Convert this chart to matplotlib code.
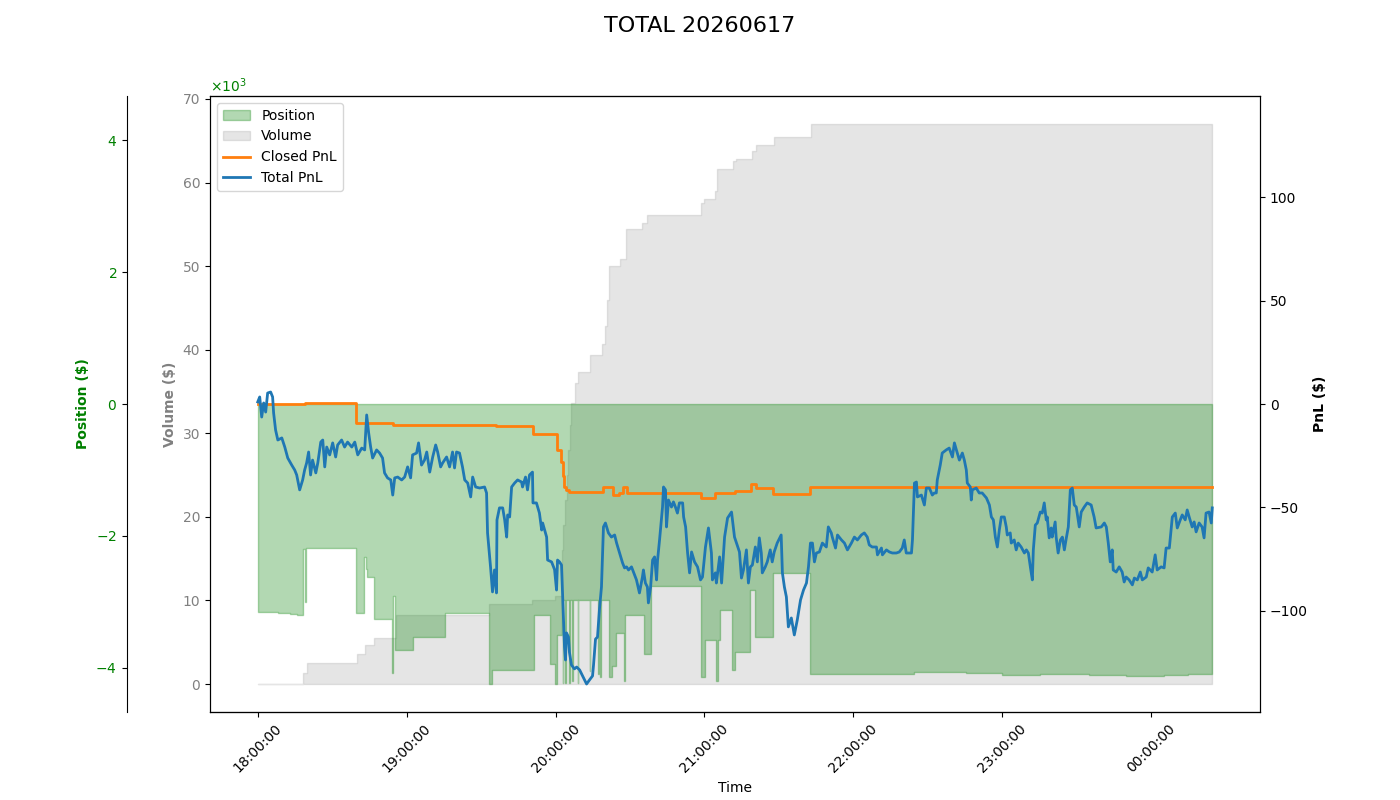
import matplotlib
matplotlib.use('Agg')
import matplotlib.pyplot as plt
import matplotlib.dates as mdates
import numpy as np
import pandas as pd


start = pd.Timestamp('2026-06-17 18:00:00')

# Volume ($, thousands), cumulative, (minutes after 18:00, value)
volume_pts = [(0, 0), (18.1, 1.3), (19.7, 2.5), (39.9, 3.6), (43.1, 4.7), (46.7, 5.5),
              (55.6, 8.3), (93.0, 9.6), (110.7, 10.0), (119.6, 10.5), (122.4, 16),
              (123.2, 19), (124.0, 22), (124.6, 25), (125.2, 28), (125.8, 31), (126.4, 33.6),
              (127.7, 36), (128.9, 37.3), (133.7, 39.4), (138.9, 40.7), (140.1, 42.8),
              (140.9, 46), (141.7, 50), (145.8, 50.9), (148.2, 54.4), (155.0, 55.1),
              (157.0, 56.1), (178.8, 57.5), (180.0, 58), (184.4, 59), (185.2, 61.6),
              (191.3, 62.6), (192.9, 62.8), (199.3, 63.8), (200.9, 64.5), (208.2, 65.5),
              (223.1, 67.0), (384.6, 67.0)]

# Position ($)
position_pts = [(0, -3150), (8, -3170), (13, -3190), (16, -3210), (18.1, -2200), (18.9, -3000),
                (19.5, -2180), (39.5, -3170), (43.0, -2320), (43.5, -2500), (44.0, -2620),
                (46.8, -3270), (54.0, -4080), (54.6, -2920), (55.4, -3730), (62.4, -3530),
                (75.3, -3170), (93.0, -4250), (94.3, -4030), (111.5, -3200), (117.6, -3950),
                (119.6, -4250), (120.4, -3500), (122.4, -2970), (122.8, -4230), (123.1, -2970),
                (124.0, -4230), (124.3, -2970), (125.6, -4230), (125.9, -2970), (126.8, -4200),
                (127.1, -2970), (128.9, -4230), (129.2, -2970), (133.7, -4050), (134.0, -2970),
                (136.9, -4100), (137.4, -2970), (137.9, -4150), (138.5, -2970), (141.7, -4150),
                (142.9, -3980), (144.2, -3470), (147.4, -4200), (147.8, -3200), (155.8, -3800),
                (158.3, -2770), (178.4, -4140), (180.4, -3580), (184.8, -4200), (185.4, -3580),
                (186.1, -3120), (190.9, -4030), (192.5, -3760), (198.5, -2830), (200.5, -3530),
                (207.8, -2560), (222.7, -4100), (264.6, -4070), (285.5, -4090), (300, -4120),
                (315, -4100), (335, -4110), (350, -4130), (365, -4120), (375, -4100),
                (384.6, -4100)]

# Closed PnL ($)
closed_pts = [(0, 0), (19.0, 0.5), (39.5, -9.2), (54.4, -10.1), (96.0, -10.8), (110.9, -14.5),
              (120.4, -22.2), (122.0, -28), (123.0, -35), (123.6, -40), (124.4, -41.5),
              (125.6, -42.5), (139.3, -40), (143.3, -44), (145.5, -43), (147.0, -40),
              (148.6, -43), (178.4, -45.4), (184.4, -43), (192.5, -42), (198.9, -38.6),
              (200.9, -40.6), (207.8, -43.5), (222.7, -40), (384.6, -40)]

# Total PnL ($)
total_pts = [(0, 1.0), (0.8, 3.4), (1.6, -6.3), (2.4, 0.5), (3.2, -3.9), (4.0, 5.3), (5.2, 5.8),
             (6.0, 3.4), (6.4, -4.3), (7.2, -12.6), (8.1, -17.4), (9.7, -16.4), (10.9, -20.8),
             (12.1, -26.1), (13.7, -29.5), (14.9, -31.9), (15.7, -34.3), (16.9, -41.5),
             (18.1, -36.7), (18.9, -31.9), (19.7, -28.5), (20.5, -23.2), (21.3, -34.3),
             (22.1, -27.1), (23.4, -33.3), (24.2, -28.5), (25.4, -18.4), (26.2, -17.4),
             (27.0, -30.4), (27.8, -20.8), (29.0, -24.6), (30.2, -18.8), (31.4, -25.6),
             (32.2, -19.8), (33.8, -17.4), (35.0, -20.8), (36.2, -18.4), (37.9, -20.8),
             (39.1, -18.4), (40.3, -24.6), (41.9, -21.3), (43.1, -22.2), (43.9, -5.3),
             (44.7, -14.0), (45.5, -20.8), (46.3, -26.1), (47.9, -22.2), (49.1, -23.7),
             (50.3, -26.1), (51.1, -33.3), (52.3, -35.7), (53.6, -36.7), (54.4, -44.0),
             (55.2, -35.7), (56.4, -35.3), (58.0, -36.7), (59.2, -35.3), (60.4, -30.4),
             (61.6, -35.7), (62.4, -24.6), (64.0, -23.7), (64.8, -18.8), (66.0, -29.5),
             (67.2, -27.1), (68.1, -23.2), (69.3, -32.9), (70.5, -25.6), (71.7, -19.8),
             (72.5, -23.2), (73.7, -30.4), (74.5, -28.5), (76.1, -25.6), (77.3, -30.4),
             (78.5, -23.2), (79.3, -30.9), (80.1, -23.2), (81.3, -23.7), (82.5, -30.4),
             (83.4, -36.7), (84.6, -38.2), (85.8, -44.9), (86.6, -35.3), (87.8, -40.1),
             (89.4, -40.6), (91.4, -40.1), (92.2, -43.0), (92.6, -62.3), (93.8, -78.7),
             (94.6, -90.8), (95.4, -80.2), (96.2, -91.3), (96.4, -56.0), (97.4, -50.2),
             (98.7, -50.2), (99.5, -56.0), (100.3, -64.3), (100.7, -53.6), (101.5, -54.6),
             (102.3, -40.1), (103.5, -38.2), (104.7, -36.7), (106.3, -37.7), (106.7, -40.1),
             (107.9, -35.3), (108.7, -41.5), (109.5, -34.3), (110.7, -32.9), (110.9, -47.8),
             (112.3, -47.8), (113.5, -52.7), (114.4, -60.9), (114.8, -57.5), (116.4, -64.3),
             (116.8, -75.4), (118.4, -76.3), (119.6, -80.0), (120.0, -85.0), (120.4, -89.9),
             (120.8, -75.4), (121.6, -76.3), (122.4, -77.8), (122.8, -91.3), (123.6, -117.4),
             (124.0, -123.7), (124.4, -110.6), (125.2, -112.6), (125.6, -120.0), (126.4, -126.1),
             (127.6, -128.0), (128.5, -127.1), (129.7, -128.5), (130.9, -131.4), (132.5, -135.3),
             (133.7, -133.3), (134.9, -131.4), (135.3, -126.1), (136.1, -113.6), (136.9, -112.6),
             (137.7, -99.0), (138.5, -88.4), (139.3, -59.4), (140.1, -57.5), (141.3, -62.3),
             (142.5, -64.3), (143.8, -63.3), (144.6, -67.2), (145.8, -72.0), (147.0, -76.8),
             (147.8, -79.2), (148.6, -78.7), (149.4, -80.2), (150.6, -78.7), (151.4, -81.2),
             (152.6, -85.0), (153.8, -91.3), (155.0, -83.6), (155.4, -80.2), (156.2, -86.5),
             (157.0, -88.4), (157.4, -96.1), (158.3, -88.4), (159.1, -75.4), (159.9, -73.9),
             (160.7, -85.0), (161.1, -75.4), (161.9, -65.7), (163.1, -49.8), (163.5, -40.1),
             (164.3, -41.5), (164.7, -59.4), (165.5, -46.4), (166.7, -49.8), (167.5, -47.3),
             (168.3, -49.8), (169.1, -52.7), (169.9, -47.8), (171.2, -47.8), (171.6, -54.6),
             (172.4, -59.4), (173.2, -72.0), (174.0, -81.6), (174.8, -71.5), (176.0, -76.3),
             (177.2, -78.7), (178.4, -85.0), (179.2, -83.6), (180.4, -69.1), (181.6, -59.9),
             (182.8, -72.0), (183.2, -85.0), (184.4, -81.6), (184.8, -86.5), (186.1, -73.9),
             (186.9, -86.5), (188.1, -64.3), (189.3, -55.1), (190.9, -52.2), (192.1, -64.3),
             (192.9, -67.2), (194.1, -71.5), (194.9, -84.1), (195.7, -80.2), (196.9, -70.5),
             (197.7, -86.5), (198.5, -78.7), (199.3, -77.8), (200.5, -69.1), (201.3, -76.3),
             (202.1, -64.7), (202.9, -72.0), (203.3, -81.6), (204.5, -78.7), (205.3, -76.3),
             (206.5, -70.5), (207.3, -76.3), (208.1, -71.5), (209.3, -67.2), (210.9, -63.3),
             (211.4, -81.6), (212.2, -88.4), (213.0, -93.2), (213.8, -107.7), (215.0, -103.4),
             (216.2, -111.6), (217.4, -104.3), (218.7, -94.7), (219.9, -89.9), (221.1, -86.5),
             (221.9, -78.7), (222.7, -67.2), (223.5, -67.2), (224.3, -76.3), (225.1, -72.0),
             (226.3, -71.5), (227.5, -67.2), (229.1, -69.1), (229.9, -59.4), (231.1, -62.3),
             (231.5, -64.3), (232.8, -69.6), (233.6, -63.3), (235.2, -65.7), (236.4, -67.2),
             (237.6, -70.5), (239.2, -67.2), (240.4, -64.3), (241.6, -65.7), (243.2, -63.3),
             (244.4, -62.3), (245.6, -64.3), (246.4, -68.1), (247.6, -69.1), (249.3, -69.1),
             (249.7, -72.9), (251.3, -69.6), (251.7, -72.9), (253.3, -70.5), (254.5, -71.5),
             (255.7, -72.0), (257.3, -72.0), (258.5, -71.5), (259.7, -69.6), (260.5, -65.7),
             (261.3, -72.0), (263.4, -72.0), (263.8, -65.7), (264.6, -38.2), (265.4, -37.7),
             (265.8, -44.9), (267.4, -44.0), (268.6, -48.8), (269.4, -40.6), (270.6, -40.6),
             (271.8, -44.0), (272.6, -43.0), (273.4, -43.0), (273.8, -36.7), (275.0, -29.5),
             (275.8, -23.7), (277.4, -22.2), (278.6, -21.3), (279.9, -25.6), (280.7, -18.8),
             (281.5, -22.2), (282.7, -27.1), (283.9, -23.7), (284.7, -27.1), (285.5, -31.9),
             (285.9, -38.2), (287.1, -40.1), (287.5, -46.4), (287.9, -41.5), (289.5, -40.6),
             (290.7, -43.0), (291.9, -43.0), (293.6, -45.4), (294.8, -48.8), (295.6, -54.6),
             (296.4, -56.0), (297.2, -64.3), (298.0, -69.1), (298.8, -60.9), (299.6, -54.6),
             (300.8, -54.6), (301.6, -59.4), (302.0, -63.3), (303.2, -62.3), (303.6, -67.2),
             (304.8, -65.7), (305.6, -70.5), (306.4, -67.2), (307.6, -69.1), (308.9, -72.0),
             (309.7, -70.5), (310.5, -72.0), (311.3, -78.7), (312.1, -85.0), (312.5, -70.5),
             (313.3, -58.5), (314.1, -57.5), (315.3, -52.2), (316.1, -52.7), (316.9, -47.8),
             (317.7, -56.0), (318.1, -54.6), (318.9, -64.7), (319.7, -59.9), (320.1, -64.3),
             (321.3, -57.0), (321.7, -64.3), (322.5, -72.0), (323.4, -65.7), (324.2, -64.3),
             (325.0, -70.5), (325.8, -64.7), (326.6, -59.4), (327.4, -41.5), (328.2, -40.6),
             (329.0, -48.8), (329.8, -49.8), (331.0, -59.4), (331.8, -52.2), (333.0, -49.8),
             (334.2, -47.8), (335.8, -48.8), (337.0, -54.6), (337.8, -59.9), (339.9, -59.4),
             (341.1, -57.5), (341.9, -59.4), (342.7, -67.2), (343.5, -76.3), (344.3, -70.5),
             (344.7, -80.2), (345.9, -81.2), (347.1, -78.7), (348.3, -81.2), (349.1, -86.0),
             (349.9, -83.6), (351.1, -85.0), (352.4, -87.4), (353.2, -84.1), (354.4, -85.0),
             (355.6, -81.2), (356.4, -85.0), (358.0, -83.6), (358.8, -79.2), (360.4, -81.2),
             (361.6, -72.9), (362.4, -80.2), (364.0, -78.7), (365.2, -79.2), (366.0, -69.6),
             (367.3, -69.6), (368.1, -59.4), (368.5, -54.6), (369.7, -52.7), (370.5, -59.9),
             (371.7, -56.0), (372.5, -53.6), (373.7, -56.0), (374.5, -51.2), (375.3, -54.6),
             (376.5, -59.4), (377.3, -57.0), (378.1, -61.8), (379.3, -57.5), (380.5, -59.4),
             (381.3, -64.7), (382.1, -52.7), (383.3, -52.2), (384.2, -57.5), (384.6, -50.2)]


def to_series(pts):
    mins, vals = zip(*pts)
    t = start + pd.to_timedelta(np.array(mins), unit='min')
    return t, np.array(vals, dtype=float)


t_vol, volume = to_series(volume_pts)
t_pos, position = to_series(position_pts)
t_closed, closed_pnl = to_series(closed_pts)
t_total, total_pnl = to_series(total_pts)

fig, ax = plt.subplots(figsize=(14, 8), dpi=100)
fig.subplots_adjust(left=0.15, right=0.9, top=0.88, bottom=0.11)
fig.suptitle('TOTAL 20260617', fontsize=16)

# Volume on the main axis
h_vol = ax.fill_between(t_vol, 0, volume, step='post', color='gray', alpha=0.2, label='Volume')
ax.set_ylabel('Volume ($)', color='gray', fontweight='bold')
ax.tick_params(axis='y', labelcolor='gray')
ax.set_xlabel('Time')

# Position on an outward left axis
ax_pos = ax.twinx()
h_pos = ax_pos.fill_between(t_pos, 0, position, step='post', color='green', alpha=0.3, label='Position')
ax_pos.spines['left'].set_position(('outward', 60))
ax_pos.spines['left'].set_visible(True)
ax_pos.spines['right'].set_visible(False)
ax_pos.yaxis.set_label_position('left')
ax_pos.yaxis.set_ticks_position('left')
ax_pos.set_ylabel('Position ($)', color='green', fontweight='bold')
ax_pos.tick_params(axis='y', labelcolor='green')
ax_pos.ticklabel_format(axis='y', style='sci', scilimits=(3, 3), useMathText=True)
ax_pos.yaxis.get_offset_text().set_color('green')
pos_lim = np.abs(position).max() * 1.1
ax_pos.set_ylim(-pos_lim, pos_lim)

# PnL on the right
ax_pnl = ax.twinx()
h_closed, = ax_pnl.plot(t_closed, closed_pnl, drawstyle='steps-post', color='#ff7f0e',
                        linewidth=2, label='Closed PnL')
h_total, = ax_pnl.plot(t_total, total_pnl, color='#1f77b4', linewidth=2, label='Total PnL')
ax_pnl.set_ylabel('PnL ($)', fontweight='bold')
pnl_lim = max(np.abs(total_pnl).max(), np.abs(closed_pnl).max()) * 1.1
ax_pnl.set_ylim(-pnl_lim, pnl_lim)

ax.xaxis.set_major_locator(mdates.HourLocator())
ax.xaxis.set_major_formatter(mdates.DateFormatter('%H:%M:%S'))
plt.setp(ax.get_xticklabels(), rotation=45)

ax_pnl.legend([h_pos, h_vol, h_closed, h_total],
              ['Position', 'Volume', 'Closed PnL', 'Total PnL'], loc='upper left')

fig.savefig('out.png')
